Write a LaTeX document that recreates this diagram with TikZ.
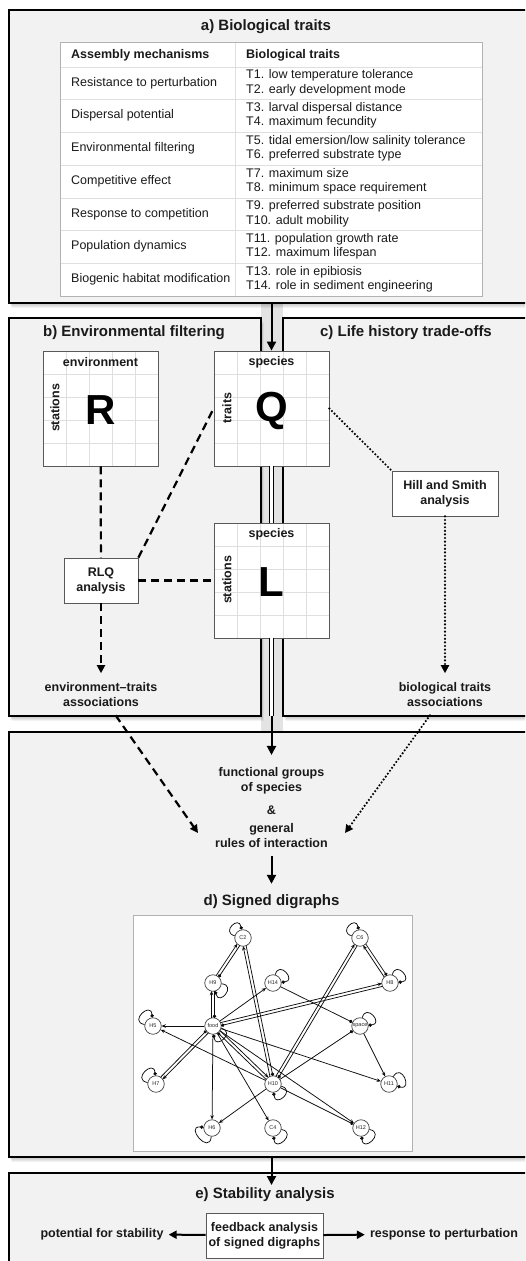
\documentclass[tikz,border=0pt]{standalone}
\usepackage{fontspec}
\setmainfont{Liberation Sans}
\usetikzlibrary{arrows.meta,calc}
\definecolor{panelbg}{HTML}{F2F2F2}
\definecolor{ink}{HTML}{1A1A1A}
\newcommand\pshadow[4]{\foreach \sh in {1,...,5}{\fill[black,opacity=0.05] (#1+\sh*0.5,#2-\sh) rectangle (#3+\sh*0.5,#4-\sh);}}
\newcommand\dedge[2]{%
  \draw[dga,shorten <=8pt,shorten >=8pt] ($(#1)!1.5pt!90:(#2)$) -- ($(#2)!1.5pt!-90:(#1)$);
  \draw[dgd,shorten <=8pt,shorten >=8pt] ($(#2)!1.5pt!90:(#1)$) -- ($(#1)!1.5pt!-90:(#2)$);}
\begin{document}
\begin{tikzpicture}[x=1pt,y=1pt,
  panel/.style={draw=black,line width=1.2pt,fill=panelbg},
  ptitle/.style={font=\bfseries\fontsize{15}{18}\selectfont,inner sep=2pt,text=ink},
  lbl/.style={font=\bfseries\fontsize{12.5}{15}\selectfont,align=center,inner sep=2pt,text=ink},
  tcell/.style={font=\fontsize{12.5}{14.5}\selectfont,align=left,anchor=west,inner sep=0pt,text=ink},
  thead/.style={tcell,font=\bfseries\fontsize{12.5}{14.5}\selectfont},
  bigarr/.style={line width=2pt,-{Triangle[length=9pt,width=9pt]}},
  midarr/.style={line width=2pt,-{Triangle[length=8pt,width=8pt]}},
  dbl/.style={line width=1.2pt,double=white,double distance=2.6pt},
  dsh/.style={line width=2.2pt,dash pattern=on 8pt off 5pt},
  dtt/.style={line width=2.4pt,line cap=round,dash pattern=on 0pt off 3.6pt},
  mat/.style={draw=gray!70!black,line width=0.8pt,minimum size=115pt,inner sep=0pt},
  gridc/.style={draw=gray!25,line width=0.5pt},
  mlab/.style={font=\bfseries\fontsize{12.5}{15}\selectfont,inner sep=1pt,text=ink},
  bigl/.style={font=\bfseries\fontsize{42}{42}\selectfont,inner sep=0pt},
  wbox/.style={draw=gray!70!black,line width=0.8pt,fill=white,font=\bfseries\fontsize{12.5}{15}\selectfont,align=center,inner sep=2pt,text=ink},
  dg/.style={circle,draw=gray!50!black,fill=white,line width=0.7pt,minimum size=16.5pt,inner sep=0pt,font=\fontsize{5.5}{6}\selectfont,text=gray!30!black},
  dga/.style={draw=gray!10!black,line width=0.75pt,-{Stealth[length=4.2pt,width=3.6pt]}},
  dgd/.style={draw=gray!10!black,line width=0.75pt,-{Circle[length=3.4pt]}}
]
\useasboundingbox (0,0) rectangle (525,-1261);
\clip (0,0) rectangle (525,-1261);

% channel between b and c
\fill[gray!22] (261,-303) rectangle (283,-732);

% panels with shadows
\pshadow{9}{-10}{540}{-303}
\draw[panel] (9,-10) rectangle (540,-303);
\pshadow{9}{-318}{261}{-716}
\draw[panel] (9,-318) rectangle (261,-716);
\pshadow{283}{-318}{540}{-716}
\draw[panel] (283,-318) rectangle (540,-716);
\pshadow{9}{-732}{540}{-1157}
\draw[panel] (9,-732) rectangle (540,-1157);
\pshadow{9}{-1173}{540}{-1290}
\draw[panel] (9,-1173) rectangle (540,-1290);

% titles
\node[ptitle] (ta) at (266,-27) {a) Biological traits};
\node[ptitle] (tb) at (134,-333) {b) Environmental filtering};
\node[ptitle] (tc) at (406,-333) {c) Life history trade-offs};
\node[ptitle] (td) at (271.5,-902) {d) Signed digraphs};
\node[ptitle] (te) at (265,-1195) {e) Stability analysis};

% table
\fill[white] (60,-42) rectangle (482,-296);
\foreach \yy in {67,99,132,165,198,230,263} \draw[gray!25,line width=0.6pt] (60,-\yy) -- (482,-\yy);
\draw[gray!25,line width=0.6pt] (235,-42) -- (235,-296);
\draw[gray!60,line width=0.8pt] (60,-42) rectangle (482,-296);
\node[thead] (h1) at (71,-55) {Assembly mechanisms};
\node[thead] (h2) at (246,-55) {Biological traits};
\node[tcell] (l1) at (71,-83) {Resistance to perturbation};
\node[tcell] (r1) at (246,-83) {T1. low temperature tolerance\\T2. early development mode};
\node[tcell] (l2) at (71,-115.5) {Dispersal potential};
\node[tcell] (r2) at (246,-115.5) {T3. larval dispersal distance\\T4. maximum fecundity};
\node[tcell] (l3) at (71,-148.5) {Environmental filtering};
\node[tcell] (r3) at (246,-148.5) {T5. tidal emersion/low salinity tolerance\\T6. preferred substrate type};
\node[tcell] (l4) at (71,-181.5) {Competitive effect};
\node[tcell] (r4) at (246,-181.5) {T7. maximum size\\T8. minimum space requirement};
\node[tcell] (l5) at (71,-214) {Response to competition};
\node[tcell] (r5) at (246,-214) {T9. preferred substrate position\\T10. adult mobility};
\node[tcell] (l6) at (71,-246.5) {Population dynamics};
\node[tcell] (r6) at (246,-246.5) {T11. population growth rate\\T12. maximum lifespan};
\node[tcell] (l7) at (71,-279.5) {Biogenic habitat modification};
\node[tcell] (r7) at (246,-279.5) {T13. role in epibiosis\\T14. role in sediment engineering};

% matrices
\fill[white] (43,-351) rectangle (158,-466);
\draw[gridc,shift={(43,-466)}] (0,0) grid[step=23] (115,115);
\node[mat] (R) at (100.5,-408.5) {};
\fill[white] (214,-351) rectangle (329,-466);
\draw[gridc,shift={(214,-466)}] (0,0) grid[step=23] (115,115);
\node[mat] (Q) at (271.5,-408.5) {};
\fill[white] (214,-523) rectangle (329,-638);
\draw[gridc,shift={(214,-638)}] (0,0) grid[step=23] (115,115);
\node[mat] (L) at (271.5,-580.5) {};

\node[mlab] (Rh) at (100.5,-362) {environment};
\node[mlab,rotate=90] (Rs) at (55,-408) {stations};
\node[bigl] (Rl) at (100.5,-410) {R};
\node[mlab] (Qh) at (271.5,-362) {species};
\node[mlab,rotate=90] (Qs) at (227,-408) {traits};
\node[bigl] (Ql) at (272,-411) {Q};
\node[mlab] (Lh) at (271.5,-534) {species};
\node[mlab,rotate=90] (Ls) at (227,-580) {stations};
\node[bigl] (Ll) at (271.5,-582) {L};

% analysis boxes
\node[wbox,minimum width=74pt,minimum height=45pt] (RLQ) at (101,-580.5) {RLQ\\analysis};
\node[wbox,minimum width=106pt,minimum height=45pt] (HS) at (445,-493.5) {Hill and Smith\\analysis};

\node[lbl] (eta) at (101,-694.5) {environment–traits\\associations};
\node[lbl] (bta) at (445,-694.5) {biological traits\\associations};

% panel b/c connectors
\draw[dsh] (R) -- (RLQ);
\draw[dsh] (RLQ.north east) -- (Q.west);
\draw[dsh] (RLQ) -- (L);
\draw[dsh,-{Triangle[length=8pt,width=8pt]},shorten >=7pt] (RLQ) -- (eta);
\draw[dtt] (Q.east) -- (HS.north west);
\draw[dtt,-{Triangle[length=8pt,width=8pt]},shorten >=7pt] (HS) -- (bta);

% central flow
\coordinate (abot) at (271.5,-303);
\coordinate (bcb) at (271.5,-716);
\coordinate (dbot) at (271.5,-1157);
\coordinate (etop) at (271.5,-1185);
\draw[bigarr] (abot) -- (Q);
\draw[dbl] (Q) -- (L);
\draw[dbl] (L) -- (bcb);

\node[lbl] (fg1) at (271.5,-780.5) {functional groups\\of species};
\node[lbl] (amp) at (271.5,-810) {\&};
\node[lbl] (fg2) at (271.5,-835.5) {general\\rules of interaction};
\draw[bigarr,shorten >=10pt] (bcb) -- (fg1);
\draw[bigarr,shorten <=6pt,shorten >=9pt] (fg2) -- (td);

\coordinate (dtip) at (198,-833);
\coordinate (dotip) at (345,-833);
\draw[dsh,-{Triangle[length=8pt,width=8pt]},shorten <=8pt] (eta) -- (dtip);
\draw[dtt,-{Triangle[length=8pt,width=8pt]},shorten <=8pt] (bta) -- (dotip);

% digraph
\draw[gray!60,line width=0.8pt,fill=white] (133,-915) rectangle (412,-1151);
\node[dg] (C2) at (243,-938) {C2};
\node[dg] (C6) at (360,-938) {C6};
\node[dg] (H9) at (213,-983) {H9};
\node[dg] (H14) at (273,-983) {H14};
\node[dg] (H8) at (390,-983) {H8};
\node[dg] (H5) at (153,-1026) {H5};
\node[dg] (food) at (213,-1026) {food};
\node[dg] (space) at (360,-1026) {space};
\node[dg] (H7) at (156,-1084) {H7};
\node[dg] (H10) at (273,-1084) {H10};
\node[dg] (H11) at (389,-1084) {H11};
\node[dg] (H6) at (212,-1128) {H6};
\node[dg] (C4) at (273,-1128) {C4};
\node[dg] (H12) at (361,-1128) {H12};

\dedge{H9}{C2}
\dedge{H10}{C2}
\dedge{H10}{C6}
\dedge{H8}{C6}
\dedge{food}{H9}
\dedge{food}{H8}
\dedge{food}{H7}
\dedge{food}{H10}
\draw[dga] (food) -- (H14);
\draw[dga] (food) -- (H5);
\draw[dga] (food) -- (H6);
\draw[dga] (food) -- (C4);
\draw[dga] (food) -- (H11);
\draw[dga] (food) -- (H12);
\draw[dga] (H10) -- (H5);
\draw[dga] (H10) -- (H6);
\draw[dga] (space) -- (H11);
\draw[dgd] (H10) -- (space);
\draw[dgd] (H14) -- (space);
\draw[dgd] (H10) -- (H12);

\draw[dgd] (C2) to[out=165,in=100,looseness=4] (C2);
\draw[dgd] (C6) to[out=165,in=100,looseness=4] (C6);
\draw[dgd] (H9) to[out=-5,in=-75,looseness=4] (H9);
\draw[dgd] (H14) to[out=75,in=5,looseness=4] (H14);
\draw[dgd] (H8) to[out=75,in=5,looseness=4] (H8);
\draw[dgd] (H5) to[out=170,in=95,looseness=4] (H5);
\draw[dgd] (food) to[out=-15,in=-85,looseness=4] (food);
\draw[dgd] (space) to[out=75,in=5,looseness=4] (space);
\draw[dgd] (H7) to[out=170,in=95,looseness=4] (H7);
\draw[dgd] (H10) to[out=-15,in=-85,looseness=4] (H10);
\draw[dgd] (H11) to[out=60,in=-15,looseness=4] (H11);
\draw[dgd] (H6) to[out=-95,in=175,looseness=4] (H6);
\draw[dgd] (C4) to[out=-10,in=-85,looseness=4] (C4);
\draw[dgd] (H12) to[out=-10,in=-85,looseness=4] (H12);

% d -> e
\draw[bigarr] (dbot) -- (etop);

% stability
\node[lbl] (ps) at (102,-1234) {potential for stability};
\node[wbox,minimum width=117pt,minimum height=45pt] (fb) at (264.5,-1235.5) {feedback analysis\\of signed digraphs};
\node[lbl] (rp) at (444,-1234) {response to perturbation};
\draw[midarr,shorten >=3pt] (fb) -- (ps);
\draw[midarr,shorten >=3pt] (fb) -- (rp);
\end{tikzpicture}
\end{document}
